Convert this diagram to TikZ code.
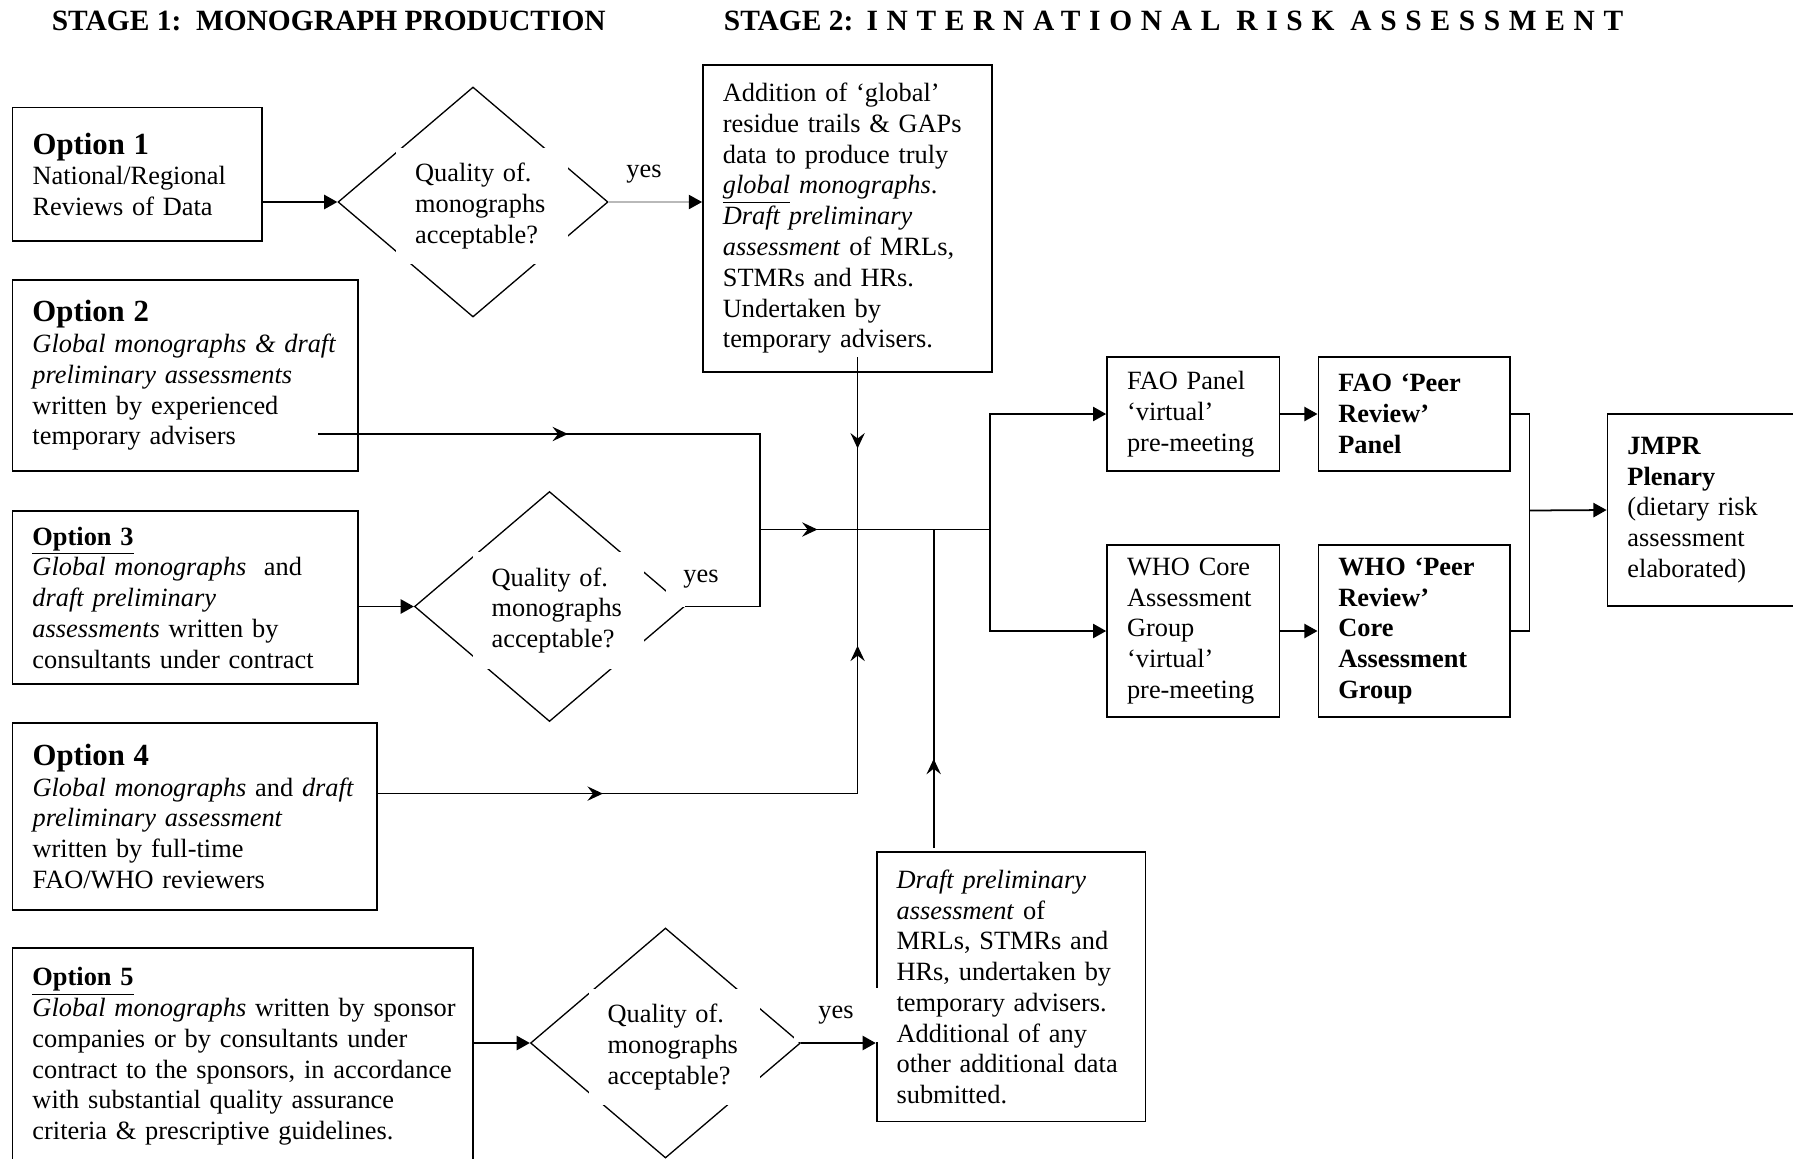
\documentclass[tikz,border=0pt]{standalone}
\usepackage{fontspec}
\setmainfont{Liberation Serif}
\usetikzlibrary{arrows.meta,shapes.geometric,decorations.markings}

\tikzset{
	midarrow/.style={decoration={markings,
		mark=at position #1 with {\arrow{Stealth[length=7pt,width=6.5pt,inset=2.5pt]}}},
		postaction={decorate}},
	midarrow/.default=0.5
}

\begin{document}
\begin{tikzpicture}[x=0.16mm, y=-0.16mm, line width=0.8pt,
		font=\fontsize{12}{14}\selectfont,
		box/.style={draw, align=left, inner xsep=3.2mm, inner ysep=1mm},
		quality/.style={diamond, draw, line width=0.6pt, minimum width=43.2mm, minimum height=36.8mm},
		qtext/.style={fill=white, align=left, text width=21.4mm, inner xsep=3mm, minimum height=18.6mm},
		tri/.style={-{Triangle[length=6pt,width=6.5pt]}}]
		\useasboundingbox (0,0) rectangle (1793,1158);
		\clip (0,0) rectangle (1793,1158);
		
		\begin{scope}[every node/.style={anchor=base west, inner sep=0pt, font=\fontsize{13.4}{15}\selectfont\bfseries}]
			\node (stage1) at (51,30) {STAGE 1:\ \ MONOGRAPH PRODUCTION};
			\node (stage2) at (723,30) {STAGE 2:\hspace{6pt}{\addfontfeatures{LetterSpace=29.5}INTERNATIONAL RISK ASSESSMENT}};
		\end{scope}
		
		\begin{scope}[every node/.style={box}]
			\node[text width=33.5mm, minimum height=21.4mm] (opt1) at (137.3,174.3)
			{{\fontsize{14}{16}\selectfont\bfseries Option 1}\\ National/Regional\\ Reviews of Data};
			\node[text width=48.9mm, minimum height=30.6mm] (opt2) at (185.3,375.5)
			{{\fontsize{14}{16}\selectfont\bfseries Option 2}\\ \textit{Global monographs \& draft}\\ \textit{preliminary assessments}\\ written by experienced\\ temporary advisers};
			\node[text width=48.9mm, minimum height=27.7mm] (opt3) at (185.3,597.5)
			{\underline{\textbf{Option 3}}\\ \textit{Global monographs}\ \ and\\ \textit{draft preliminary}\\ \textit{assessments} written by\\ consultants under contract};
			\node[text width=51.9mm, minimum height=30mm] (opt4) at (194.8,816.4)
			{{\fontsize{14}{16}\selectfont\bfseries Option 4}\\ \textit{Global monographs} and \textit{draft}\\ \textit{preliminary assessment}\\ written by full-time\\ FAO/WHO reviewers};
			\node[text width=67.3mm, minimum height=34.7mm] (opt5) at (242.8,1056.5)
			{\underline{\textbf{Option 5}}\\ \mbox{\textit{Global monographs} written by sponsor}\\ companies or by consultants under\\ \mbox{contract to the sponsors, in accordance}\\ with substantial quality assurance\\ criteria \& prescriptive guidelines.};
			\node[text width=39.8mm, minimum height=49.1mm] (add) at (847.3,218.3)
			{Addition of ‘global’\\ residue trails \& GAPs\\ data to produce truly\\ \textit{\underline{global} monographs}.\\ \textit{Draft preliminary}\\ \textit{assessment} of MRLs,\\ STMRs and HRs.\\ Undertaken by\\ temporary advisers.};
			\node[text width=36.6mm, minimum height=43.1mm] (draft) at (1011,986.8)
			{\textit{Draft preliminary}\\ \textit{assessment} of\\ MRLs, STMRs and\\ HRs, undertaken by\\ temporary advisers.\\ Additional of any\\ other additional data\\ submitted.};
			\node[text width=21.2mm, minimum height=18.3mm] (fao) at (1193.3,414)
			{FAO Panel\\ ‘virtual’\\ pre-meeting};
			\node[text width=24.2mm, minimum height=18.3mm, font=\fontsize{12}{14}\selectfont\bfseries] (faop) at (1414,414)
			{FAO ‘Peer\\ Review’\\ Panel};
			\node[text width=21.2mm, minimum height=27.5mm] (who) at (1193.3,631)
			{WHO Core\\ Assessment\\ Group\\ ‘virtual’\\ pre-meeting};
			\node[text width=24.2mm, minimum height=27.5mm, font=\fontsize{12}{14}\selectfont\bfseries] (whop) at (1414,631)
			{WHO ‘Peer\\ Review’\\ Core\\ Assessment\\ Group};
			\node[text width=29.4mm, minimum height=30.7mm, anchor=west] (jmpr) at (1606.6,510)
			{\textbf{JMPR}\\ \textbf{Plenary}\\ (dietary risk\\ assessment\\ elaborated)};
		\end{scope}
		
		\node[quality] (q1) at (473,202) {};
		\node[quality] (q2) at (549.5,606.5) {};
		\node[quality] (q3) at (665.5,1043) {};
		\begin{scope}[every node/.style={qtext}]
			\node (q1t) at (482,206) {Quality of.\\ monographs\\ acceptable?};
			\node (q2t) at (558.5,610.5) {Quality of.\\ monographs\\ acceptable?};
			\node (q3t) at (674.5,1047) {Quality of.\\ monographs\\ acceptable?};
		\end{scope}
		
		\node (yes1) at (644,174) {yes};
		\node[fill=white, minimum width=11.2mm, minimum height=9mm] (yes2) at (701,579) {yes};
		\node[fill=white, minimum width=13.4mm, minimum height=8.6mm] (yes3) at (836,1015) {yes};
		
		\coordinate (o2out) at (318,434);
		\coordinate (jm) at (760,529.5);
		\coordinate (jb) at (990,529.5);
		\coordinate (addout) at (857.6,357);
		\coordinate (o4out) at (377,793.6);
		\coordinate (draftout) at (933.7,848);
		\coordinate (jj) at (1529.5,510.5);
		
		\begin{scope}[every path/.style={tri}]
			\path (q1.west -| opt1.east) edge (q1.west);
			\path (q2.west -| opt3.east) edge (q2.west);
			\path (q3.west -| opt5.east) edge (q3.west);
			\path (q3.east) edge (q3.east -| draft.west);
			\path (fao) edge (faop);
			\path (who) edge (whop);
			\path (jj) edge (jmpr.west);
			\draw (jb) |- (fao.west);
			\draw (jb) |- (who.west);
		\end{scope}
		\draw[-{Triangle[length=6pt,width=6.5pt,black]}, gray!55, line width=0.5pt] (q1.east) -- (q1.east -| add.west);
		
		\draw[midarrow=0.465] (o2out) -- (o2out -| jm) -- (jm);
		\draw (q2.east) -| (jm);
		\draw[midarrow=0.25] (jm) -- (jb);
		\draw[midarrow=0.53] (addout) -- (addout |- jm);
		\draw[midarrow=0.47] (o4out) -- (o4out -| addout);
		\draw[midarrow=0.56] (o4out -| addout) -- (addout |- jm);
		\draw[midarrow=0.28] (draftout) -- (draftout |- jm);
		\draw (faop.east) -| (jj) |- (whop.east);
	\end{tikzpicture}
\end{document}
